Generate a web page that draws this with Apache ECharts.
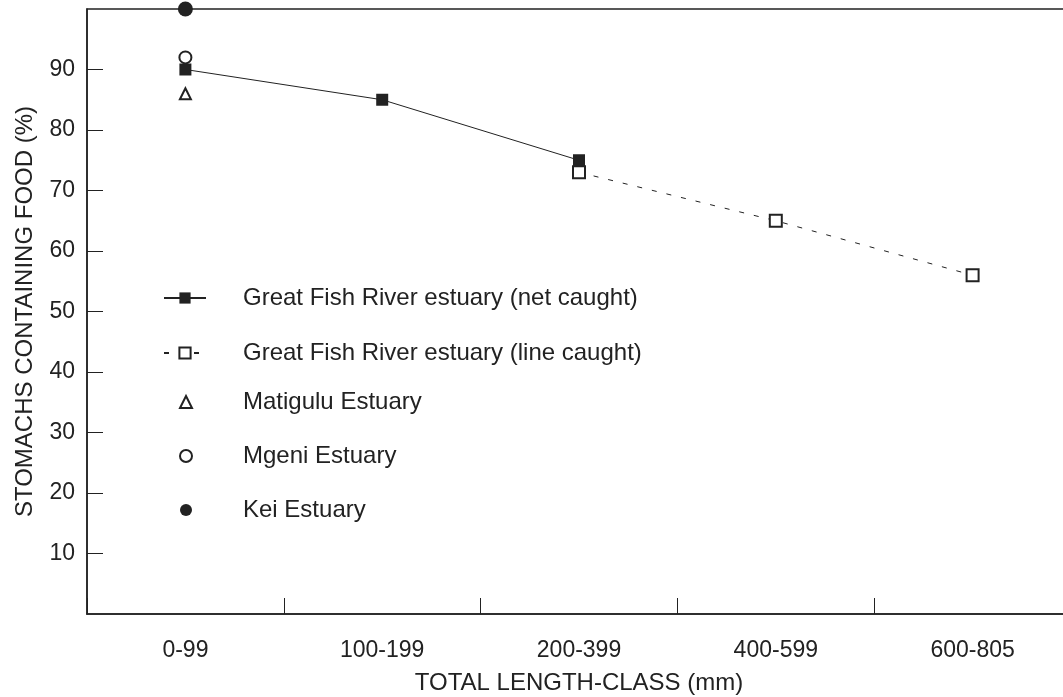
<!DOCTYPE html>
<html>
<head>
<meta charset="utf-8">
<script src="https://cdn.jsdelivr.net/npm/echarts@6/dist/echarts.min.js"></script>
<style>
html,body{margin:0;padding:0;background:#fff;}
#chart{width:1063px;height:697px;}
</style>
</head>
<body>
<div id="chart"></div>
<script>
// length classes (mm)
var categories = ['0-99', '100-199', '200-399', '400-599', '600-805'];
// % stomachs containing food
var netCaught = [90, 85, 75, null, null];
var lineCaught = [null, null, 73, 65, 56];
var matigulu = [86, null, null, null, null];
var mgeni = [92, null, null, null, null];
var kei = [100, null, null, null, null];

var ink = '#222';
var font = '"Liberation Sans", Arial, sans-serif';

var chart = echarts.init(document.getElementById('chart'));
chart.setOption({
    animation: false,
    backgroundColor: '#fff',
    textStyle: {fontFamily: font, color: ink},
    grid: {
        left: 87, top: 9, width: 984, bottom: 83,
        outerBoundsMode: 'none',
        show: true, borderColor: ink, borderWidth: 1.5
    },
    legend: [
        {
            // line series
            orient: 'vertical',
            left: 163, top: 286, padding: 0,
            itemWidth: 42, itemHeight: 14, itemGap: 31,
            textStyle: {fontSize: 24, color: ink, fontFamily: font, padding: [0, 0, 0, 32]},
            data: ['Great Fish River estuary (net caught)', 'Great Fish River estuary (line caught)']
        },
        {
            // single points
            orient: 'vertical',
            left: 179, top: 390, padding: 0,
            itemWidth: 12, itemHeight: 12, itemGap: 30,
            textStyle: {fontSize: 24, color: ink, fontFamily: font, padding: [0, 0, 0, 46]},
            data: ['Matigulu Estuary', 'Mgeni Estuary', 'Kei Estuary']
        }
    ],
    xAxis: {
        type: 'category',
        data: categories,
        boundaryGap: true,
        name: 'TOTAL LENGTH-CLASS (mm)',
        nameLocation: 'middle',
        nameGap: 57,
        nameTextStyle: {fontSize: 24, color: ink},
        axisLine: {lineStyle: {color: ink, width: 1.5}},
        axisTick: {show: true, inside: true, length: 16, alignWithLabel: false, lineStyle: {color: ink, width: 1}},
        axisLabel: {fontSize: 23, color: ink, margin: 25},
        splitLine: {show: false}
    },
    yAxis: {
        type: 'value',
        min: 0, max: 100, interval: 10,
        name: 'STOMACHS CONTAINING FOOD (%)',
        nameLocation: 'middle',
        nameGap: 50,
        nameTextStyle: {fontSize: 24, color: ink},
        axisLine: {show: true, lineStyle: {color: ink, width: 1.5}},
        axisTick: {show: true, inside: true, length: 16, lineStyle: {color: ink, width: 1}},
        axisLabel: {fontSize: 23, color: ink, margin: 12, showMinLabel: false, showMaxLabel: false},
        splitLine: {show: false}
    },
    series: [
        {
            name: 'Great Fish River estuary (line caught)',
            type: 'line',
            data: lineCaught,
            symbol: 'emptyRect', symbolSize: 12,
            itemStyle: {color: ink, borderWidth: 1.2},
            lineStyle: {color: ink, width: 1, type: [5, 10]},
            z: 2
        },
        {
            name: 'Great Fish River estuary (net caught)',
            type: 'line',
            data: netCaught,
            symbol: 'rect', symbolSize: 12,
            itemStyle: {color: ink},
            lineStyle: {color: ink, width: 1},
            z: 3
        },
        {
            name: 'Matigulu Estuary',
            type: 'scatter',
            data: matigulu,
            symbol: 'emptyTriangle', symbolSize: 11,
            itemStyle: {color: ink, borderWidth: 1, opacity: 1}
        },
        {
            name: 'Mgeni Estuary',
            type: 'scatter',
            data: mgeni,
            symbol: 'emptyCircle', symbolSize: 12,
            itemStyle: {color: ink, borderWidth: 1.2, opacity: 1}
        },
        {
            name: 'Kei Estuary',
            type: 'scatter',
            data: kei,
            symbol: 'circle', symbolSize: 15,
            itemStyle: {color: ink, opacity: 1},
            z: 4
        }
    ]
});
</script>
</body>
</html>
